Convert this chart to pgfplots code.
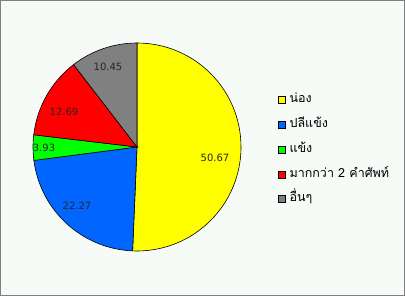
\documentclass[border=0pt]{standalone}
\usepackage{pgfplots}
\pgfplotsset{compat=1.18}
\usepackage{fontspec}
\setmainfont{DejaVu Sans}
\newfontfamily\thaifont[Script=Thai]{Loma}
\definecolor{bgc}{HTML}{F7FBF7}
\definecolor{frm}{HTML}{808080}
\definecolor{cyel}{HTML}{FFFF00}
\definecolor{cblu}{HTML}{0066FF}
\definecolor{cgrn}{HTML}{00FF00}
\definecolor{cred}{HTML}{FF0000}
\definecolor{cgry}{HTML}{808080}
\begin{document}
\begin{tikzpicture}
\begin{axis}[
  width=405bp, height=296bp, scale only axis,
  xmin=0, xmax=405, ymin=0, ymax=296,
  hide axis, clip=false,
  legend image code/.code={\draw[#1] (0bp,-3.5bp) rectangle (7bp,3.5bp); \path (10bp,0bp);},
  legend cell align=left,
  legend style={draw=none, fill=none, at={(axis cs:278,203.5)}, anchor=north west,
    inner sep=0pt, row sep=10.3bp,
    nodes={inner sep=1bp, text height=9bp, text depth=3.5bp, font=\thaifont\fontsize{12.5bp}{14bp}\selectfont}},
]
% background and frame
\fill[bgc] (axis cs:0,0) rectangle (axis cs:405,296);
\draw[frm, line width=1bp] (axis cs:0.5,0.5) rectangle (axis cs:404.5,295.5);
% pie slices: values 50.67, 22.27, 3.93, 12.69, 10.45 (clockwise from top)
\filldraw[fill=cyel, draw=black, line width=0.6bp] (axis cs:137,149) -- ++(90:104bp) arc[start angle=90, delta angle={-3.6*50.67}, radius=104bp] -- cycle;
\filldraw[fill=cblu, draw=black, line width=0.6bp] (axis cs:137,149) -- ++({90-3.6*50.67}:104bp) arc[start angle={90-3.6*50.67}, delta angle={-3.6*22.27}, radius=104bp] -- cycle;
\filldraw[fill=cgrn, draw=black, line width=0.6bp] (axis cs:137,149) -- ++({90-3.6*72.94}:104bp) arc[start angle={90-3.6*72.94}, delta angle={-3.6*3.93}, radius=104bp] -- cycle;
\filldraw[fill=cred, draw=black, line width=0.6bp] (axis cs:137,149) -- ++({90-3.6*76.87}:104bp) arc[start angle={90-3.6*76.87}, delta angle={-3.6*12.69}, radius=104bp] -- cycle;
\filldraw[fill=cgry, draw=black, line width=0.6bp] (axis cs:137,149) -- ++({90-3.6*89.56}:104bp) arc[start angle={90-3.6*89.56}, delta angle={-3.6*10.44}, radius=104bp] -- cycle;
% value labels
\begin{scope}[every node/.style={font=\fontsize{10bp}{12bp}\selectfont, text=black!85}]
\node at (axis cs:215,138) {50.67};
\node at (axis cs:77,90) {22.27};
\node at (axis cs:44,148) {3.93};
\node at (axis cs:64,184) {12.69};
\node at (axis cs:108,229) {10.45};
\end{scope}
\addlegendimage{fill=cyel, draw=black}
\addlegendentry{น่อง}
\addlegendimage{fill=cblu, draw=black}
\addlegendentry{ปลีแข้ง}
\addlegendimage{fill=cgrn, draw=black}
\addlegendentry{แข้ง}
\addlegendimage{fill=cred, draw=black}
\addlegendentry{มากกว่า 2 คำศัพท์}
\addlegendimage{fill=cgry, draw=black}
\addlegendentry{อื่นๆ}
\end{axis}
\end{tikzpicture}
\end{document}
